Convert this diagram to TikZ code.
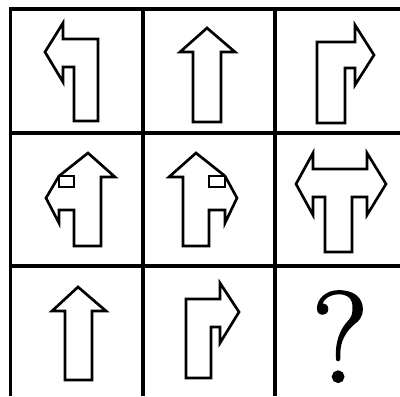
\documentclass[tikz,border=0pt]{standalone}
\usepackage{fontspec}
\newfontfamily\qfont[FakeBold=1.6]{Latin Modern Roman}
\usepackage{tikz}
\usetikzlibrary{
  calc,       % 坐标计算
  positioning % 节点相对定位
}

\begin{document}
\begin{tikzpicture}[x=0.025cm, y=-0.025cm, line width=1.8pt,
  gridline/.style={line width=2.3pt},
  arrowline/.style={line width=1.9pt, line join=miter}]

  % 画布大小（与原图比例一致）
  \useasboundingbox (0,0) rectangle (400,396);

  % =========== 九宫格 ===========
  \draw[gridline] (400,9) -- (10.5,9) -- (10.5,396);
  \draw[gridline] (143,9) -- (143,396);
  \draw[gridline] (275,9) -- (275,396);
  \draw[gridline] (10.5,133) -- (400,133);
  \draw[gridline] (10.5,266) -- (400,266);

  % =========== 第一行 ===========
  \begin{scope}[arrowline]
    % 左转箭头
    \draw (45,52) -- (63,23) -- (63,39) -- (98,39) -- (98,121) -- (74,121)
      -- (74,67) -- (63,67) -- (63,82) -- cycle;
    % 向上箭头
    \draw (207,28) -- (235,52) -- (221,52) -- (221,122) -- (193,122)
      -- (193,52) -- (180,52) -- cycle;
    % 右转箭头
    \draw (374,55) -- (355,25) -- (355,42) -- (317,42) -- (317,123)
      -- (345,123) -- (345,68) -- (355,68) -- (355,85) -- cycle;
  \end{scope}

  % =========== 第二行 ===========
  \begin{scope}[arrowline]
    % 向上 + 向左
    \draw (88,153) -- (115,177) -- (101,177) -- (101,246) -- (74,246)
      -- (74,210) -- (59,210) -- (59,223) -- (46,198) -- (59,176) -- cycle;
    \draw (59,176) rectangle (74,187);
    % 向上 + 向右
    \draw (196,153) -- (169,177) -- (183,177) -- (183,246) -- (209,246)
      -- (209,210) -- (225,210) -- (225,223) -- (237,198) -- (225,176) -- cycle;
    \draw (209,176) rectangle (225,187);
    % 左右双向箭头
    \draw (296,184) -- (313,153) -- (313,169) -- (367,169) -- (367,153)
      -- (386,184) -- (367,215) -- (367,197) -- (352,197) -- (352,252)
      -- (325,252) -- (325,197) -- (313,197) -- (313,215) -- cycle;
  \end{scope}

  % =========== 第三行 ===========
  \begin{scope}[arrowline]
    % 向上箭头
    \draw (78,287) -- (106,311) -- (92,311) -- (92,380) -- (65,380)
      -- (65,311) -- (52,311) -- cycle;
    % 右转箭头
    \draw (239,312) -- (220,283) -- (220,299) -- (186,299) -- (186,378)
      -- (211,378) -- (211,327) -- (220,327) -- (220,343) -- cycle;
  \end{scope}

  % 问号
  \node[anchor=base, inner sep=0pt] (qmark) at (340,382)
    {\qfont\fontsize{92}{92}\selectfont ?};

\end{tikzpicture}
\end{document}
